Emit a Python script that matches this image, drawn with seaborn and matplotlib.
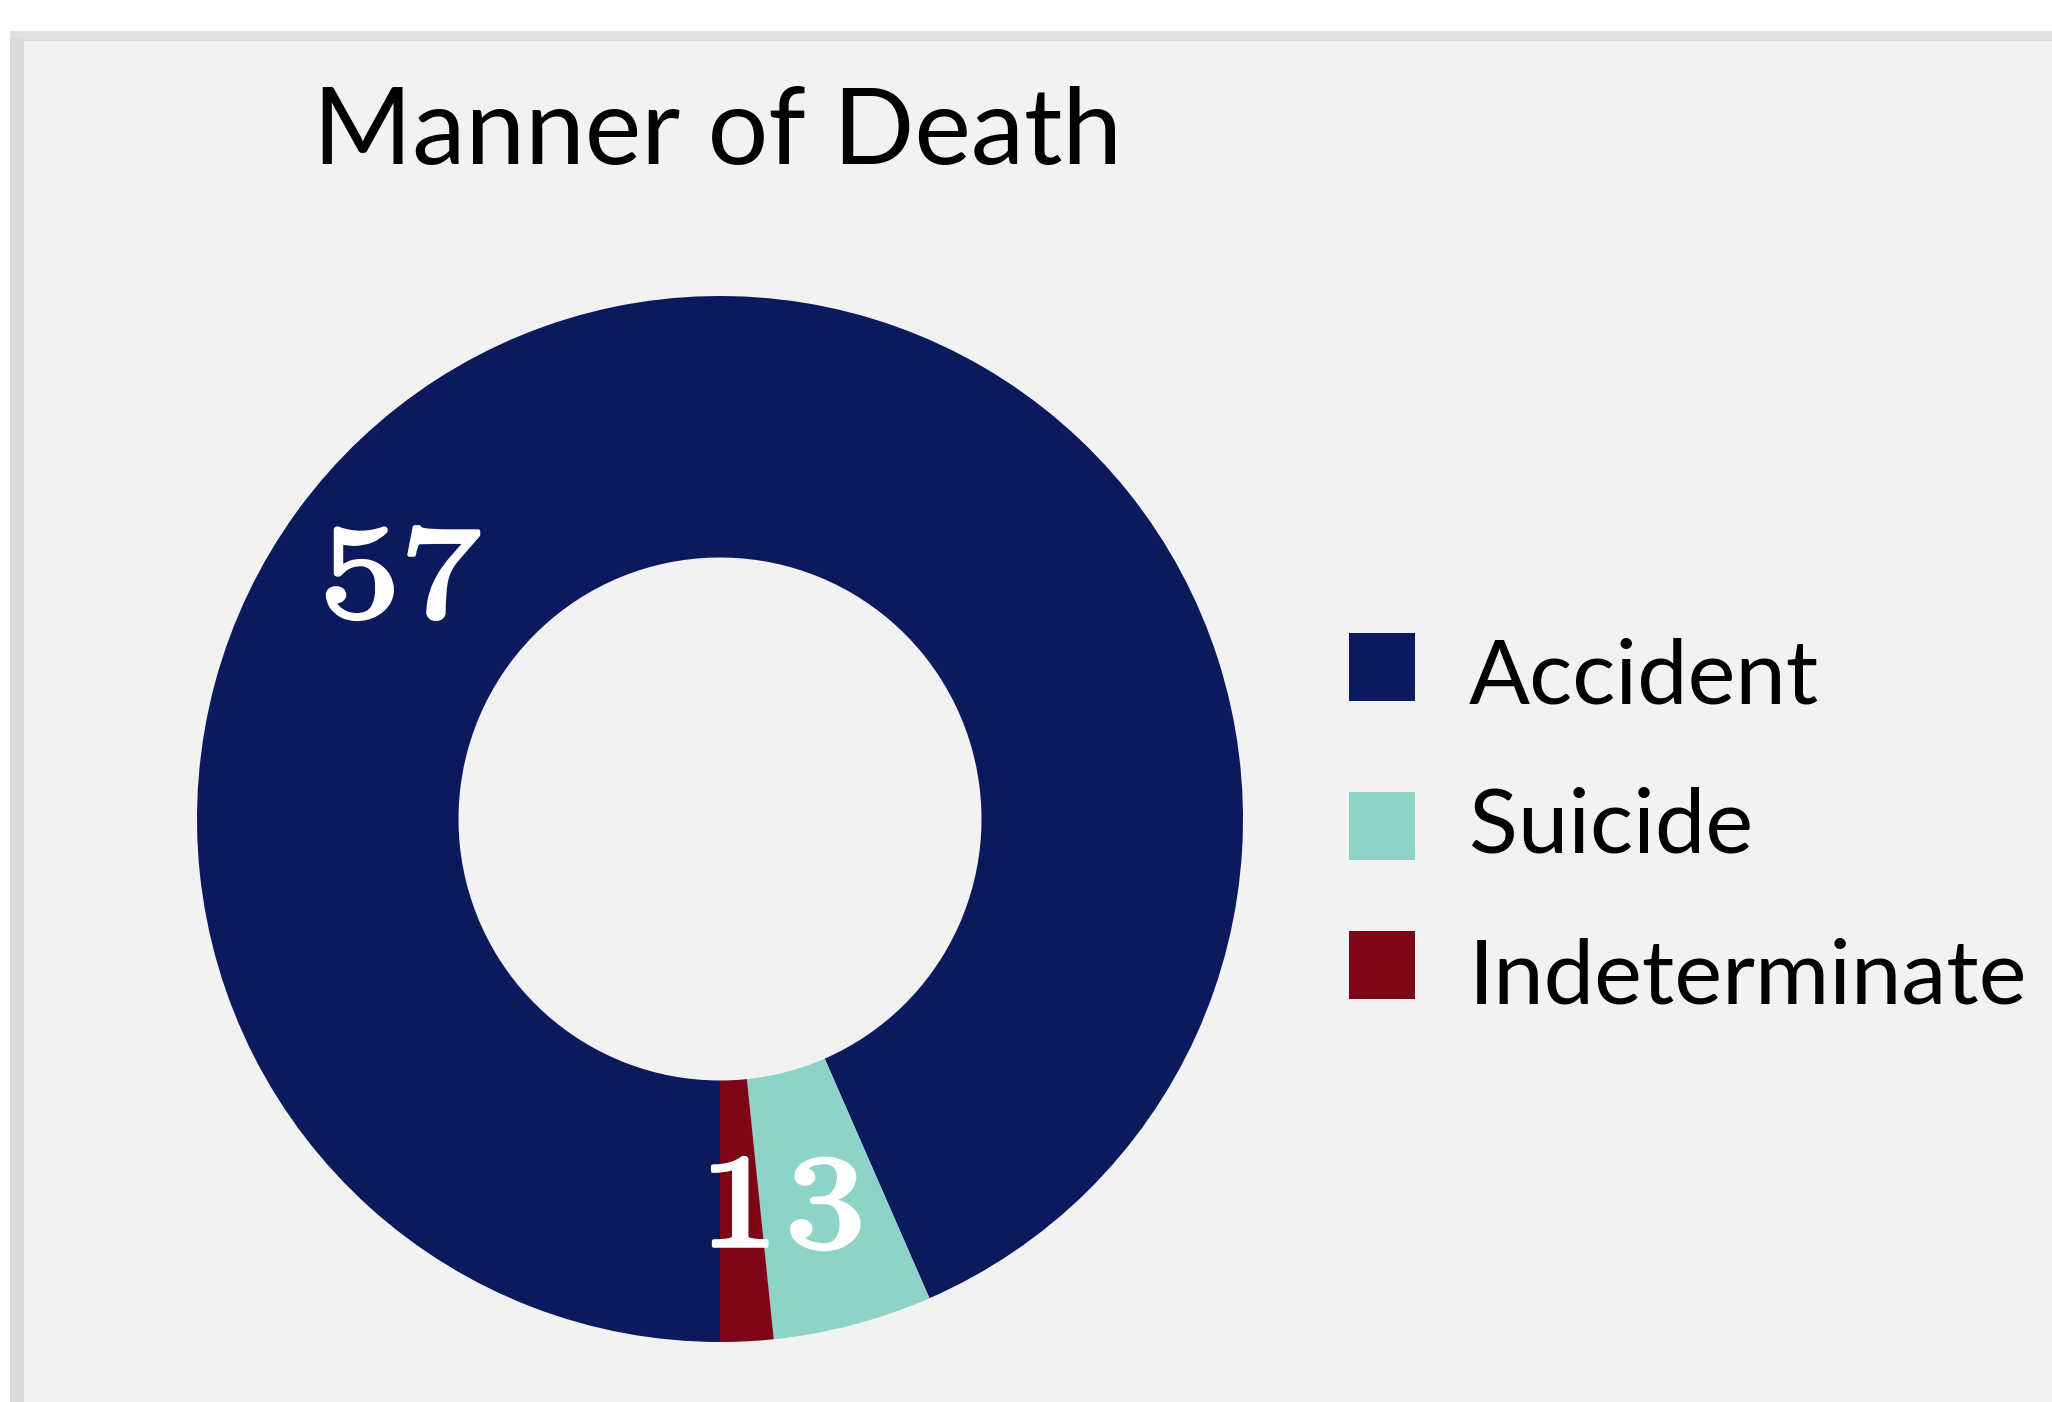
import numpy as np
import pandas as pd
import seaborn as sns
import matplotlib
matplotlib.use("Agg")
import matplotlib.pyplot as plt
from matplotlib.patches import Rectangle, PathPatch
from matplotlib.textpath import TextPath
from matplotlib.transforms import Affine2D, IdentityTransform

# Data
categories = ["Accident", "Suicide", "Indeterminate"]
counts = [57, 3, 1]
colors = ["#0b195d", "#8dd3c7", "#7d0515"]
title = "Manner of Death"

df = pd.DataFrame({"manner": categories, "count": counts})

sns.set_theme(style="white")
plt.rcParams["font.family"] = ["Lato", "DejaVu Sans"]
plt.rcParams["mathtext.fontset"] = "cm"

W, H = 2052, 1402
fig = plt.figure(figsize=(W / 100, H / 100), dpi=100)
fig.patch.set_facecolor("white")

def fx(px):
    return px / W

def fy(py):
    return 1 - py / H

# Card background with its grey frame
fig.add_artist(Rectangle((fx(10), fy(H)), fx(W - 10), (H - 31) / H,
                         transform=fig.transFigure, facecolor="#e0e0e0", edgecolor="none", zorder=0))
fig.add_artist(Rectangle((fx(10), fy(H)), fx(14), (H - 38) / H,
                         transform=fig.transFigure, facecolor="#dadada", edgecolor="none", zorder=0))
fig.add_artist(Rectangle((fx(24), fy(H)), fx(W - 24), (H - 41) / H,
                         transform=fig.transFigure, facecolor="#f2f2f2", edgecolor="none", zorder=0))

# Title
fig.text(fx(313), fy(164), title, fontsize=77, color="black",
         ha="left", va="baseline", family=["Lato", "DejaVu Sans"])

# Donut
cx, cy, R = 720, 819, 523
ax = fig.add_axes([fx(cx - R), fy(cy + R), 2 * R / W, 2 * R / H])
ax.set_facecolor("none")
palette = sns.color_palette(colors)
wedges, _ = ax.pie(df["count"], colors=palette, startangle=270, counterclock=False,
                   radius=1.0, wedgeprops=dict(width=0.5, linewidth=0))
ax.set_xlim(-1, 1)
ax.set_ylim(-1, 1)
ax.axis("off")


def value_label(val, x, y):
    """Wide, heavy serif numeral centred on data point (x, y)."""
    tp = TextPath((0, 0), rf"${val}$", size=132)
    ext = tp.get_extents()
    px, py = ax.transData.transform((x, y))
    tr = (Affine2D()
          .translate(-(ext.x0 + ext.x1) / 2, -(ext.y0 + ext.y1) / 2)
          .scale(1.22, 1.0)
          .translate(px, py))
    patch = PathPatch(tr.transform_path(tp), transform=IdentityTransform(),
                      facecolor="white", edgecolor="white", linewidth=2.8,
                      joinstyle="round", zorder=5)
    fig.add_artist(patch)


# Value labels on the ring (radius as a fraction of the outer radius)
label_radius = [0.767, 0.763, 0.733]
total = float(sum(counts))
start = 270.0
for i, (cat, val) in enumerate(zip(categories, counts)):
    span = val / total * 360.0
    mid = start - span / 2.0
    start -= span
    ang = 142.2 if i == 0 else mid + (0.55 if i == 1 else 0.0)
    r = label_radius[i]
    value_label(val, r * np.cos(np.radians(ang)), r * np.sin(np.radians(ang)))

# Legend
box_centers = [667, 826, 965]
base_lines = [704, 853, 1003]
for cat, col, bc, bl in zip(categories, colors, box_centers, base_lines):
    fig.add_artist(Rectangle((fx(1349), fy(bc + 34)), 66 / W, 68 / H,
                             transform=fig.transFigure, facecolor=col, edgecolor="none"))
    fig.text(fx(1469), fy(bl), cat, fontsize=65, color="black",
             ha="left", va="baseline", family=["Lato", "DejaVu Sans"])

fig.savefig("out.png", dpi=100)
